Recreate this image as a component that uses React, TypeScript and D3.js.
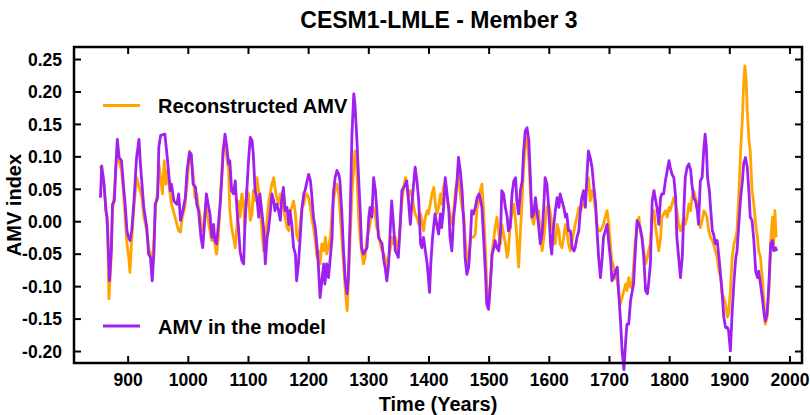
import React from "react";
import * as d3 from "d3";

// AMV index time series, [year, value]
const reconstructed: [number, number][] = [
  [854, 0.086], [858, 0.073], [863, 0.022], [866, -0.014], [868, -0.119], [871, -0.070], [874, 0.017], [877, 0.043],
  [880, 0.089], [883, 0.104], [886, 0.089], [889, 0.079], [892, 0.048], [895, 0.007], [898, -0.034], [901, -0.055],
  [903, -0.078], [906, -0.024], [910, 0.027], [914, 0.068], [917, 0.058], [920, 0.048], [923, 0.037], [926, 0.007],
  [929, -0.004], [932, -0.024], [935, -0.045], [938, -0.050], [940, -0.065], [943, -0.024], [946, 0.027], [949, 0.048],
  [951, 0.089], [954, 0.068], [957, 0.043], [960, 0.094], [963, 0.058], [966, 0.079], [969, 0.048], [972, 0.027],
  [975, 0.017], [978, 0.007], [981, -0.004], [984, -0.014], [987, -0.016], [990, 0.007], [994, 0.022], [998, 0.058],
  [1002, 0.109], [1005, 0.094], [1008, 0.073], [1011, 0.037], [1014, 0.043], [1017, 0.022], [1020, 0.007], [1023, -0.014],
  [1026, -0.004], [1029, 0.027], [1032, 0.007], [1035, -0.009], [1039, -0.029], [1042, -0.014], [1044, -0.034], [1047, -0.050],
  [1050, -0.024], [1053, 0.032], [1056, 0.084], [1058, 0.115], [1061, 0.120], [1064, 0.099], [1067, 0.079], [1069, 0.017],
  [1072, -0.009], [1075, -0.024], [1078, -0.040], [1081, -0.004], [1083, 0.032], [1086, 0.007], [1089, 0.043], [1092, 0.027],
  [1094, -0.009], [1097, 0.048], [1100, 0.043], [1103, 0.002], [1106, 0.012], [1108, 0.048], [1111, 0.032], [1114, 0.068],
  [1117, 0.048], [1119, 0.022], [1122, -0.009], [1125, -0.045], [1128, -0.034], [1131, 0.002], [1133, 0.027], [1136, 0.043],
  [1139, 0.058], [1142, 0.068], [1144, 0.053], [1147, 0.037], [1150, 0.027], [1153, 0.043], [1155, 0.037], [1158, 0.022],
  [1161, 0.007], [1164, -0.009], [1167, -0.014], [1169, 0.017], [1172, 0.022], [1175, 0.032], [1178, 0.012], [1180, -0.019],
  [1183, -0.029], [1186, -0.004], [1189, 0.022], [1192, 0.027], [1194, 0.037], [1197, 0.043], [1200, 0.037], [1203, 0.022],
  [1205, 0.007], [1208, -0.009], [1211, -0.029], [1214, -0.055], [1216, -0.045], [1219, -0.065], [1222, -0.034], [1225, -0.045],
  [1228, -0.024], [1230, -0.050], [1233, -0.040], [1236, -0.024], [1239, 0.017], [1241, 0.032], [1244, 0.048], [1247, 0.058],
  [1250, 0.043], [1252, 0.017], [1255, -0.024], [1258, -0.065], [1261, -0.106], [1264, -0.137], [1266, -0.096], [1269, -0.024],
  [1272, 0.043], [1275, 0.084], [1277, 0.109], [1280, 0.079], [1283, 0.007], [1286, -0.029], [1288, -0.045], [1291, -0.065],
  [1294, -0.055], [1297, -0.024], [1300, -0.014], [1302, -0.004], [1305, 0.017], [1308, 0.022], [1311, 0.007], [1313, -0.009],
  [1316, -0.014], [1319, -0.034], [1322, -0.045], [1325, -0.050], [1327, -0.055], [1330, -0.070], [1333, -0.055], [1336, -0.040],
  [1338, -0.024], [1341, -0.034], [1344, -0.024], [1347, -0.040], [1349, -0.045], [1352, -0.004], [1355, 0.032], [1358, 0.053],
  [1361, 0.068], [1363, 0.058], [1366, 0.037], [1369, 0.048], [1372, 0.043], [1374, 0.027], [1377, 0.012], [1380, 0.007],
  [1383, -0.004], [1386, 0.012], [1388, 0.002], [1391, -0.014], [1394, 0.007], [1397, 0.017], [1399, 0.012], [1402, 0.027],
  [1405, 0.043], [1408, 0.053], [1410, 0.032], [1413, 0.012], [1416, 0.022], [1419, 0.043], [1421, 0.027], [1424, 0.053],
  [1427, 0.063], [1430, 0.037], [1433, 0.022], [1436, -0.004], [1438, 0.002], [1441, 0.017], [1444, 0.048], [1447, 0.063],
  [1449, 0.073], [1452, 0.043], [1455, 0.022], [1458, 0.007], [1460, -0.024], [1463, -0.055], [1466, -0.065], [1469, -0.024],
  [1471, -0.024], [1474, -0.024], [1477, -0.019], [1480, 0.022], [1483, 0.032], [1485, 0.048], [1488, 0.058], [1491, 0.012],
  [1494, -0.045], [1496, -0.096], [1499, -0.132], [1502, -0.096], [1505, -0.045], [1508, -0.024], [1510, -0.009], [1513, 0.007],
  [1516, -0.019], [1519, -0.034], [1521, -0.004], [1524, -0.019], [1527, -0.034], [1530, -0.055], [1532, -0.045], [1535, -0.004],
  [1538, 0.012], [1541, 0.027], [1544, 0.002], [1546, -0.024], [1549, -0.070], [1552, -0.014], [1555, 0.037], [1557, 0.079],
  [1560, 0.120], [1563, 0.130], [1566, 0.094], [1569, 0.037], [1571, 0.007], [1574, -0.004], [1577, 0.017], [1580, 0.007],
  [1582, 0.017], [1585, -0.014], [1588, -0.045], [1591, -0.024], [1593, -0.004], [1596, 0.022], [1599, 0.027], [1602, 0.012],
  [1604, -0.004], [1607, -0.024], [1610, -0.034], [1613, -0.004], [1616, -0.014], [1618, -0.034], [1621, -0.040], [1624, -0.024],
  [1627, -0.004], [1629, -0.014], [1632, -0.034], [1635, -0.045], [1638, -0.029], [1641, -0.014], [1643, -0.004], [1646, 0.007],
  [1649, 0.022], [1652, 0.017], [1654, 0.022], [1657, 0.027], [1660, 0.037], [1663, 0.058], [1665, 0.068], [1668, 0.032],
  [1671, 0.048], [1674, 0.037], [1677, 0.017], [1679, -0.004], [1682, -0.014], [1685, -0.014], [1688, -0.009], [1690, -0.004],
  [1693, 0.007], [1696, 0.017], [1699, -0.004], [1702, -0.040], [1704, -0.060], [1707, -0.070], [1710, -0.086], [1713, -0.091],
  [1715, -0.106], [1718, -0.127], [1721, -0.117], [1724, -0.106], [1727, -0.096], [1729, -0.106], [1732, -0.086], [1735, -0.101],
  [1738, -0.096], [1740, -0.070], [1743, -0.029], [1746, -0.004], [1749, 0.007], [1751, -0.014], [1754, -0.024], [1757, -0.045],
  [1760, -0.065], [1763, -0.055], [1765, -0.045], [1768, -0.034], [1771, 0.007], [1774, 0.017], [1776, -0.004], [1779, -0.024],
  [1782, -0.045], [1785, -0.024], [1787, 0.007], [1790, 0.012], [1793, 0.017], [1796, 0.007], [1799, 0.022], [1801, 0.017],
  [1804, 0.027], [1807, 0.037], [1810, 0.027], [1812, 0.017], [1815, -0.004], [1818, -0.014], [1821, -0.004], [1824, 0.007],
  [1826, -0.004], [1829, 0.007], [1832, 0.027], [1835, 0.017], [1837, 0.037], [1840, 0.048], [1843, 0.037], [1846, 0.027],
  [1848, 0.007], [1851, -0.009], [1854, 0.002], [1857, 0.017], [1860, 0.012], [1862, 0.007], [1865, -0.014], [1868, -0.024],
  [1871, -0.029], [1873, -0.034], [1876, -0.045], [1879, -0.055], [1882, -0.076], [1885, -0.086], [1887, -0.111], [1890, -0.117],
  [1893, -0.127], [1896, -0.147], [1898, -0.142], [1901, -0.106], [1904, -0.055], [1907, -0.034], [1910, -0.024], [1912, -0.014],
  [1915, 0.043], [1918, 0.109], [1921, 0.161], [1923, 0.212], [1925, 0.240], [1927, 0.222], [1929, 0.171], [1932, 0.125],
  [1934, 0.109], [1937, 0.048], [1940, 0.027], [1943, -0.004], [1946, -0.024], [1948, -0.045], [1951, -0.055], [1954, -0.086],
  [1957, -0.127], [1959, -0.158], [1962, -0.147], [1965, -0.106], [1968, -0.029], [1971, 0.007], [1973, -0.034], [1975, 0.017],
  [1977, -0.024],
];

const model: [number, number][] = [
  [854, 0.037], [856, 0.086], [860, 0.058], [863, 0.017], [865, 0.007], [869, -0.091], [872, -0.045], [874, 0.027],
  [877, 0.032], [880, 0.094], [882, 0.127], [885, 0.099], [889, 0.094], [892, 0.058], [895, 0.027], [898, -0.014],
  [900, -0.022], [903, -0.029], [906, -0.014], [910, 0.037], [914, 0.099], [918, 0.127], [920, 0.094], [923, 0.058],
  [926, 0.022], [931, -0.009], [934, -0.050], [937, -0.055], [940, -0.091], [943, -0.045], [945, 0.027], [949, 0.037],
  [951, 0.115], [954, 0.133], [961, 0.135], [965, 0.099], [970, 0.048], [972, 0.058], [976, 0.032], [981, 0.027],
  [984, 0.043], [987, 0.002], [991, 0.017], [995, 0.037], [998, 0.079], [1002, 0.107], [1005, 0.104], [1008, 0.058],
  [1012, 0.053], [1014, 0.027], [1017, 0.017], [1021, -0.024], [1024, -0.040], [1026, -0.014], [1030, 0.043], [1033, 0.027],
  [1036, 0.012], [1039, -0.024], [1042, -0.004], [1044, -0.029], [1047, -0.034], [1050, -0.004], [1053, 0.027], [1056, 0.073],
  [1058, 0.109], [1061, 0.135], [1064, 0.115], [1067, 0.089], [1069, 0.094], [1072, 0.048], [1075, 0.043], [1078, 0.063],
  [1081, 0.017], [1083, -0.004], [1086, -0.045], [1089, -0.060], [1092, -0.065], [1094, -0.004], [1097, 0.043], [1100, 0.094],
  [1103, 0.130], [1106, 0.125], [1108, 0.104], [1111, 0.048], [1114, 0.037], [1117, 0.007], [1119, 0.043], [1122, 0.017],
  [1125, -0.009], [1128, -0.065], [1131, -0.024], [1133, -0.014], [1136, 0.012], [1139, 0.043], [1142, 0.032], [1144, 0.017],
  [1147, 0.027], [1150, 0.017], [1153, 0.002], [1155, 0.032], [1158, 0.053], [1161, 0.017], [1164, 0.022], [1167, -0.004],
  [1169, 0.017], [1172, -0.004], [1175, -0.040], [1178, -0.050], [1180, -0.091], [1183, -0.065], [1186, -0.024], [1189, 0.022],
  [1192, 0.043], [1194, 0.048], [1197, 0.061], [1200, 0.073], [1203, 0.063], [1205, 0.043], [1208, 0.007], [1211, -0.009],
  [1214, -0.040], [1216, -0.065], [1219, -0.117], [1222, -0.091], [1225, -0.065], [1227, -0.096], [1230, -0.065], [1233, -0.086],
  [1236, -0.055], [1239, -0.024], [1241, 0.043], [1244, 0.068], [1247, 0.079], [1250, 0.073], [1252, 0.063], [1255, 0.017],
  [1258, -0.045], [1261, -0.091], [1264, -0.111], [1266, -0.086], [1269, 0.007], [1272, 0.135], [1275, 0.197], [1277, 0.181],
  [1280, 0.130], [1283, 0.068], [1286, 0.012], [1288, -0.040], [1291, -0.050], [1294, -0.045], [1297, -0.040], [1300, 0.007],
  [1302, 0.022], [1305, 0.007], [1308, 0.068], [1311, 0.048], [1313, 0.022], [1316, -0.024], [1319, -0.029], [1322, -0.034],
  [1325, -0.060], [1327, -0.070], [1330, -0.091], [1333, -0.065], [1336, -0.004], [1338, 0.032], [1341, -0.004], [1344, -0.045],
  [1347, -0.050], [1349, -0.055], [1352, -0.009], [1355, 0.048], [1358, 0.053], [1361, 0.058], [1363, 0.063], [1366, 0.032],
  [1369, -0.004], [1372, 0.032], [1374, 0.053], [1377, 0.084], [1380, 0.063], [1383, 0.032], [1386, -0.034], [1388, -0.040],
  [1391, -0.024], [1394, -0.045], [1397, -0.065], [1399, -0.086], [1401, -0.109], [1403, -0.065], [1406, -0.024], [1410, 0.012],
  [1413, -0.004], [1416, -0.019], [1419, 0.012], [1421, -0.009], [1424, 0.017], [1427, 0.068], [1430, 0.043], [1433, 0.017],
  [1435, -0.024], [1438, -0.045], [1441, 0.007], [1444, 0.032], [1447, 0.068], [1449, 0.099], [1452, 0.079], [1455, 0.048],
  [1458, -0.004], [1460, -0.055], [1463, -0.081], [1466, -0.070], [1469, -0.024], [1471, 0.017], [1474, 0.012], [1477, 0.022],
  [1480, 0.037], [1483, 0.043], [1485, 0.037], [1488, 0.022], [1491, -0.029], [1494, -0.081], [1496, -0.127], [1499, -0.135],
  [1502, -0.096], [1505, -0.050], [1508, -0.040], [1510, -0.029], [1513, -0.040], [1516, -0.045], [1519, -0.014], [1521, 0.048],
  [1524, 0.043], [1527, 0.022], [1530, 0.007], [1532, -0.014], [1535, -0.009], [1538, 0.043], [1541, 0.063], [1544, 0.068],
  [1546, 0.032], [1549, 0.012], [1552, 0.048], [1555, 0.063], [1557, 0.104], [1560, 0.140], [1563, 0.145], [1566, 0.125],
  [1569, 0.058], [1571, 0.007], [1574, 0.012], [1577, 0.037], [1580, 0.012], [1582, -0.004], [1585, -0.034], [1588, -0.019],
  [1591, 0.027], [1593, 0.068], [1596, 0.058], [1599, 0.022], [1602, -0.034], [1604, -0.050], [1607, -0.009], [1610, 0.017],
  [1613, 0.037], [1616, 0.022], [1618, 0.043], [1621, 0.032], [1624, 0.022], [1627, 0.007], [1629, 0.012], [1632, -0.014],
  [1635, -0.014], [1638, -0.040], [1641, -0.045], [1643, -0.040], [1646, -0.024], [1649, -0.014], [1652, 0.022], [1654, 0.037],
  [1657, 0.048], [1660, 0.022], [1663, 0.079], [1665, 0.109], [1668, 0.099], [1671, 0.084], [1674, 0.053], [1677, 0.027],
  [1679, -0.009], [1682, -0.055], [1685, -0.086], [1688, -0.055], [1690, -0.024], [1693, -0.014], [1696, -0.004], [1699, -0.034],
  [1702, -0.060], [1704, -0.091], [1707, -0.086], [1710, -0.076], [1713, -0.070], [1715, -0.106], [1718, -0.147], [1721, -0.199],
  [1724, -0.228], [1727, -0.183], [1729, -0.158], [1732, -0.158], [1735, -0.122], [1738, -0.106], [1740, -0.096], [1743, -0.045],
  [1746, 0.002], [1749, -0.004], [1751, -0.009], [1754, -0.024], [1757, -0.055], [1760, -0.106], [1763, -0.111], [1765, -0.096],
  [1768, -0.065], [1771, 0.032], [1774, 0.048], [1776, 0.037], [1779, 0.022], [1782, -0.004], [1785, 0.037], [1787, 0.043],
  [1790, 0.043], [1793, 0.063], [1796, 0.079], [1799, 0.094], [1801, 0.084], [1804, 0.073], [1807, 0.068], [1810, 0.037],
  [1812, -0.024], [1815, -0.055], [1818, -0.086], [1821, -0.055], [1824, 0.027], [1826, 0.068], [1829, 0.084], [1832, 0.089],
  [1835, 0.079], [1837, 0.058], [1840, 0.037], [1843, 0.032], [1846, 0.017], [1848, -0.004], [1851, 0.063], [1854, 0.068],
  [1857, 0.115], [1859, 0.135], [1861, 0.115], [1863, 0.068], [1866, 0.048], [1868, 0.022], [1871, -0.014], [1873, -0.019],
  [1876, -0.034], [1879, -0.029], [1882, -0.055], [1885, -0.086], [1887, -0.106], [1890, -0.147], [1893, -0.163], [1896, -0.163],
  [1898, -0.168], [1901, -0.199], [1904, -0.137], [1907, -0.091], [1910, -0.055], [1912, -0.045], [1915, -0.004], [1918, 0.037],
  [1921, 0.063], [1923, 0.089], [1926, 0.099], [1929, 0.084], [1932, 0.043], [1934, 0.007], [1937, 0.002], [1940, -0.029],
  [1943, -0.076], [1946, -0.086], [1948, -0.076], [1951, -0.096], [1954, -0.117], [1957, -0.142], [1959, -0.153], [1962, -0.142],
  [1965, -0.096], [1968, -0.034], [1971, -0.029], [1973, -0.045], [1976, -0.040], [1978, -0.045],
];

const xTicks = [900, 1000, 1100, 1200, 1300, 1400, 1500, 1600, 1700, 1800, 1900, 2000];
const yTicks = [-0.2, -0.15, -0.1, -0.05, 0, 0.05, 0.1, 0.15, 0.2, 0.25];

const ORANGE = "#FFA500";
const PURPLE = "#A020F0";
const FONT = "'Liberation Sans', Arial, Helvetica, sans-serif";

const W = 810;
const H = 415;
const frame = { left: 74, right: 802, top: 47, bottom: 363 };

export default function App() {
  const x = d3.scaleLinear().domain([810, 2020]).range([frame.left, frame.right]);
  const y = d3.scaleLinear().domain([-0.2177, 0.2693]).range([frame.bottom, frame.top]);

  const line = d3
    .line<[number, number]>()
    .x((d) => x(d[0]))
    .y((d) => y(d[1]));

  const tickLen = 7;

  return (
    <svg
      width={W}
      height={H}
      viewBox={`0 0 ${W} ${H}`}
      style={{ position: "absolute", left: 0, top: 0, background: "#fff" }}
      fontFamily={FONT}
      fontWeight="bold"
    >
      <text x={439} y={28} textAnchor="middle" fontSize={23} fill="#000">
        CESM1-LMLE - Member 3
      </text>

      {/* series */}
      <path d={line(reconstructed) ?? ""} fill="none" stroke={ORANGE} strokeWidth={2.8} strokeLinejoin="round" />
      <path d={line(model) ?? ""} fill="none" stroke={PURPLE} strokeWidth={2.8} strokeLinejoin="round" />

      {/* frame */}
      <rect
        x={frame.left}
        y={frame.top}
        width={frame.right - frame.left}
        height={frame.bottom - frame.top}
        fill="none"
        stroke="#000"
        strokeWidth={2.5}
      />

      {/* x ticks, bottom and top, pointing inward */}
      {xTicks.map((t) => (
        <g key={`x${t}`}>
          <line x1={x(t)} x2={x(t)} y1={frame.bottom} y2={frame.bottom - tickLen} stroke="#000" strokeWidth={2} />
          <line x1={x(t)} x2={x(t)} y1={frame.top} y2={frame.top + tickLen} stroke="#000" strokeWidth={2} />
          <text x={x(t)} y={386} textAnchor="middle" fontSize={17.5} fill="#000">
            {t}
          </text>
        </g>
      ))}

      {/* y ticks, left and right, pointing inward */}
      {yTicks.map((t) => (
        <g key={`y${t}`}>
          <line x1={frame.left} x2={frame.left + tickLen} y1={y(t)} y2={y(t)} stroke="#000" strokeWidth={2} />
          <line x1={frame.right} x2={frame.right - tickLen} y1={y(t)} y2={y(t)} stroke="#000" strokeWidth={2} />
          <text x={62} y={y(t)} dy="0.36em" textAnchor="end" fontSize={17.5} fill="#000">
            {t.toFixed(2)}
          </text>
        </g>
      ))}

      <text x={438} y={411} textAnchor="middle" fontSize={20} fill="#000">
        Time (Years)
      </text>
      <text
        transform={`translate(21, ${(frame.top + frame.bottom) / 2}) rotate(-90)`}
        textAnchor="middle"
        fontSize={20}
        fill="#000"
      >
        AMV index
      </text>

      {/* legend */}
      <line x1={103} x2={140} y1={105.5} y2={105.5} stroke={ORANGE} strokeWidth={3} />
      <text x={158} y={113} fontSize={20} fill="#000">
        Reconstructed AMV
      </text>
      <line x1={103} x2={140} y1={326} y2={326} stroke={PURPLE} strokeWidth={3} />
      <text x={158} y={333.5} fontSize={20} fill="#000">
        AMV in the model
      </text>
    </svg>
  );
}
